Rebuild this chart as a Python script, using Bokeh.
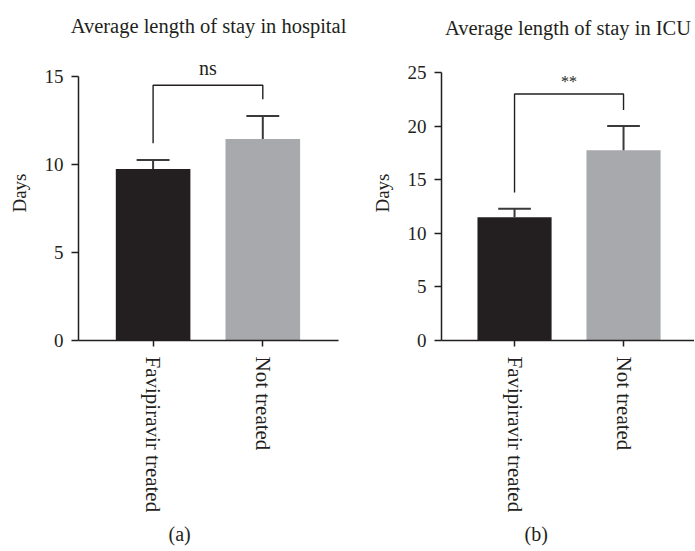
from bokeh.plotting import figure
from bokeh.layouts import row
from bokeh.models import Range1d, FixedTicker, Title
from bokeh.core.properties import value
from bokeh.embed import file_html
from bokeh.resources import INLINE

# ---------------- data ----------------
groups = ["Favipiravir treated", "Not treated"]
bar_colors = ["#231f20", "#a7a9ac"]

hosp_mean = [9.75, 11.45]
hosp_err = [0.5, 1.3]
hosp_sig = "ns"
hosp_bracket = [14.5, 11.2, 13.7]   # bar level, left leg end, right leg end
hosp_ticks = [0, 5, 10, 15]

icu_mean = [11.5, 17.75]
icu_err = [0.8, 2.25]
icu_sig = "**"
icu_bracket = [23.0, 13.8, 21.5]
icu_ticks = [0, 5, 10, 15, 20, 25]

FONT = "Liberation Serif"
INK = "#231f20"
HEIGHT = 550


def panel(title, tag, means, errs, sig, bracket, ticks, x_range, y_end,
          width, mb_left, mb_right, title_standoff, tag_offset, sig_size, sig_offset):
    p = figure(width=width, height=HEIGHT, output_backend="svg", toolbar_location=None,
               x_range=Range1d(*x_range), y_range=Range1d(0, y_end),
               min_border_left=mb_left, min_border_right=mb_right,
               min_border_top=45, min_border_bottom=210)
    p.outline_line_color = None
    p.grid.visible = False
    p.background_fill_color = "white"
    p.border_fill_color = "white"

    xs = list(range(len(groups)))
    tops = [m + e for m, e in zip(means, errs)]
    p.vbar(x=xs, top=means, bottom=0, width=0.68, color=bar_colors, line_color=None)
    p.segment(x0=xs, y0=means, x1=xs, y1=tops, line_color="#3a3a3a", line_width=2)
    p.segment(x0=[x - 0.15 for x in xs], y0=tops, x1=[x + 0.15 for x in xs], y1=tops,
              line_color="#3a3a3a", line_width=2)

    p.line(x=[xs[0], xs[0], xs[1], xs[1]],
           y=[bracket[1], bracket[0], bracket[0], bracket[2]],
           line_color=INK, line_width=1.4)
    p.text(x=[(xs[0] + xs[1]) / 2], y=[bracket[0]], text=[sig],
           text_font=value(FONT), text_font_size=sig_size, text_color=INK,
           text_align="center", text_baseline="alphabetic", y_offset=sig_offset)

    p.title.text = title
    p.title.text_font = FONT
    p.title.text_font_size = "20.5px"
    p.title.text_font_style = "normal"
    p.title.text_color = INK
    p.title.align = "center"
    p.title.standoff = title_standoff

    p.add_layout(Title(text=tag, align="left", offset=tag_offset, text_font=FONT,
                       text_font_size="20px", text_font_style="normal",
                       text_color=INK, standoff=10), "below")

    xa = p.xaxis[0]
    xa.ticker = FixedTicker(ticks=xs)
    xa.major_label_overrides = {i: g for i, g in enumerate(groups)}
    xa.major_label_orientation = "vertical"
    xa.major_label_text_font = FONT
    xa.major_label_text_font_size = "21px"
    xa.major_label_text_color = INK
    xa.major_label_standoff = 10
    xa.major_tick_in = 0
    xa.major_tick_out = 6
    xa.minor_tick_line_color = None
    xa.axis_line_color = INK
    xa.axis_line_width = 1.5
    xa.major_tick_line_color = INK
    xa.major_tick_line_width = 1.5

    ya = p.yaxis[0]
    ya.ticker = FixedTicker(ticks=ticks)
    ya.bounds = (ticks[0], ticks[-1])
    ya.axis_label = "Days"
    ya.axis_label_text_font = FONT
    ya.axis_label_text_font_size = "19px"
    ya.axis_label_text_font_style = "normal"
    ya.axis_label_text_color = INK
    ya.axis_label_standoff = 12
    ya.major_label_text_font = FONT
    ya.major_label_text_font_size = "19px"
    ya.major_label_text_color = INK
    ya.major_label_standoff = 8
    ya.major_tick_in = 0
    ya.major_tick_out = 7
    ya.minor_tick_line_color = None
    ya.axis_line_color = INK
    ya.axis_line_width = 1.5
    ya.major_tick_line_color = INK
    ya.major_tick_line_width = 1.5
    return p


pa = panel("Average length of stay in hospital", "(a)", hosp_mean, hosp_err, hosp_sig,
           hosp_bracket, hosp_ticks, (-0.68, 1.69), 16.76,
           width=348, mb_left=78, mb_right=10,
           title_standoff=18, tag_offset=90, sig_size="20px", sig_offset=-17)
pb = panel("Average length of stay in ICU", "(b)", icu_mean, icu_err, icu_sig,
           icu_bracket, icu_ticks, (-0.67, 1.651), 27.52,
           width=346, mb_left=93, mb_right=0,
           title_standoff=14, tag_offset=83, sig_size="16px", sig_offset=-12)

layout = row(pa, pb, spacing=0)
open("out.html", "w").write(file_html(layout, INLINE))
